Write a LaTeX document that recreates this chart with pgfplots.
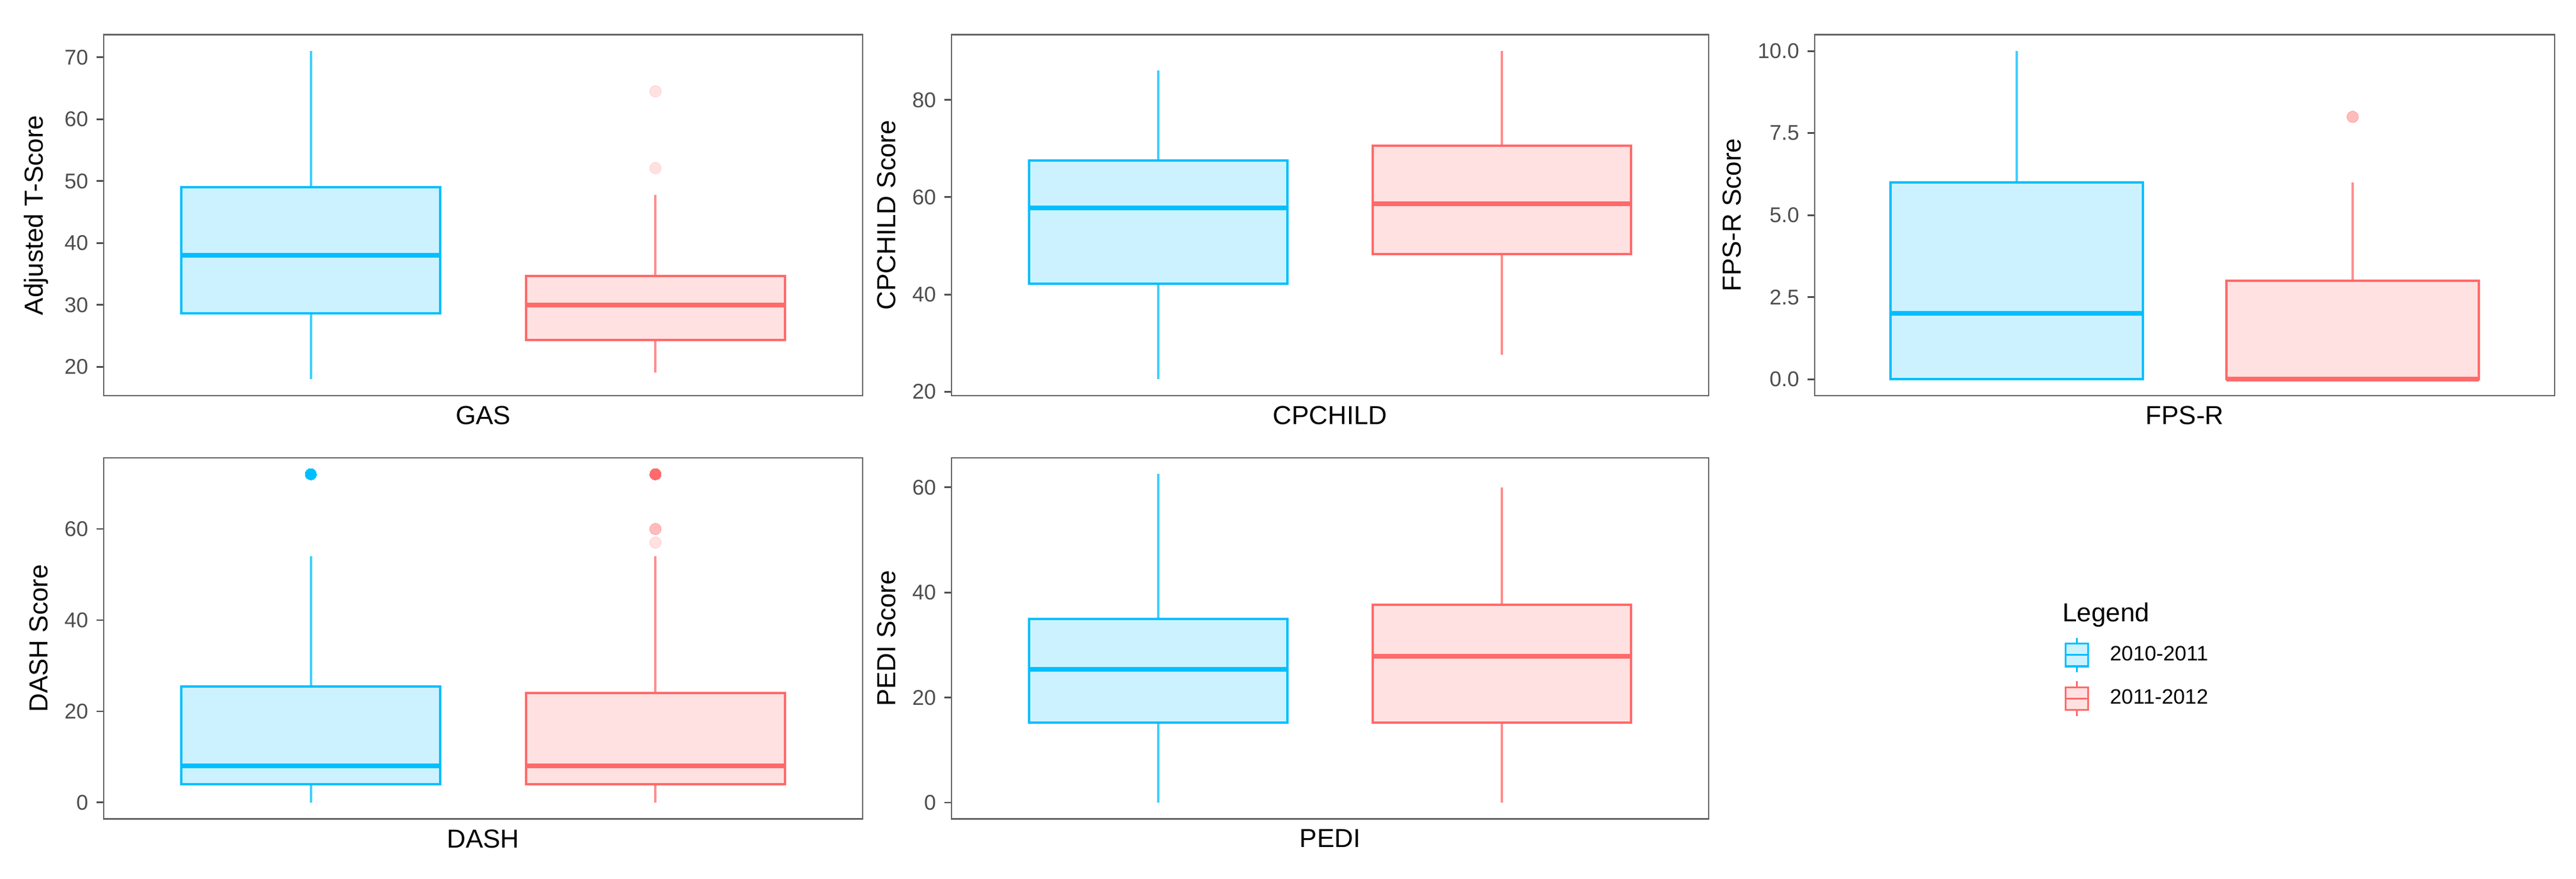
\documentclass[border=0pt]{standalone}
\usepackage{fontspec}
\setmainfont{Liberation Sans}
\usepackage{pgfplots}
\pgfplotsset{compat=1.18}
\usepgfplotslibrary{statistics}

\definecolor{cblue}{HTML}{00BFFF}
\definecolor{cbluefill}{HTML}{CCF2FF}
\definecolor{cred}{HTML}{FF6A6A}
\definecolor{credfill}{HTML}{FFE1E1}
\definecolor{frame}{HTML}{666666}
\definecolor{ticktext}{HTML}{4D4D4D}

\pgfplotsset{
  panel/.style={
    scale only axis,
    xmin=0, xmax=1, xtick=\empty,
    axis line style={draw=frame, line width=0.7pt},
    ytick pos=left, tick align=outside, major tick length=3pt,
    y tick style={draw=ticktext, line width=0.7pt},
    yticklabel style={font=\fontsize{9}{10}\selectfont, text=ticktext},
    /pgf/number format/assume math mode=true,
    label style={font=\fontsize{11}{13}\selectfont},
    xlabel style={yshift=2pt},
    boxplot/draw direction=y,
    boxplot/whisker extend=0,
  },
  bluebox/.style={draw=cblue, fill=cbluefill, line width=1pt, mark=none,
    boxplot/every median/.style={line width=2pt},
    boxplot/every whisker/.style={draw opacity=0.75}},
  redbox/.style={draw=cred, fill=credfill, line width=1pt, mark=none,
    boxplot/every median/.style={line width=2pt},
    boxplot/every whisker/.style={draw opacity=0.75}},
  outl/.style 2 args={only marks, mark=*, mark size=2.4pt, color=#1,
    mark options={draw=#1, fill=#1, line width=0pt, opacity=#2}},
}

\begin{document}
\begin{tikzpicture}
\useasboundingbox (0,0) rectangle (1087pt,371pt);

% GAS
\begin{axis}[panel, at={(43.75pt,204pt)}, anchor=south west, width=320.25pt, height=152.35pt,
  ymin=15.35, ymax=73.65, ytick={20,30,40,50,60,70},
  xlabel={GAS}, ylabel={Adjusted T-Score}]
\addplot[bluebox, boxplot prepared={lower whisker=18, lower quartile=28.6, median=38,
  upper quartile=49, upper whisker=71, draw position=0.273, box extend=0.341}] coordinates {};
\addplot[redbox, boxplot prepared={lower whisker=19.1, lower quartile=24.3, median=30,
  upper quartile=34.7, upper whisker=47.8, draw position=0.727, box extend=0.341}] coordinates {};
\addplot[outl={cred}{0.2}] coordinates {(0.727,52.1) (0.727,64.5)};
\end{axis}

% CPCHILD
\begin{axis}[panel, at={(401.5pt,204pt)}, anchor=south west, width=319.5pt, height=152.35pt,
  ymin=19.2, ymax=93.4, ytick={20,40,60,80},
  xlabel={CPCHILD}, ylabel={CPCHILD Score}]
\addplot[bluebox, boxplot prepared={lower whisker=22.6, lower quartile=42.2, median=57.8,
  upper quartile=67.5, upper whisker=86, draw position=0.273, box extend=0.341}] coordinates {};
\addplot[redbox, boxplot prepared={lower whisker=27.6, lower quartile=48.3, median=58.7,
  upper quartile=70.6, upper whisker=90, draw position=0.727, box extend=0.341}] coordinates {};
\end{axis}

% FPS-R
\begin{axis}[panel, at={(765.75pt,204pt)}, anchor=south west, width=312.25pt, height=152.35pt,
  ymin=-0.5, ymax=10.5, ytick={0,2.5,5,7.5,10},
  yticklabel={\pgfmathprintnumber[fixed,fixed zerofill,precision=1]{\tick}},
  xlabel={FPS-R}, ylabel={FPS-R Score}]
\addplot[bluebox, boxplot prepared={lower whisker=0, lower quartile=0, median=2,
  upper quartile=6, upper whisker=10, draw position=0.273, box extend=0.341}] coordinates {};
\addplot[redbox, boxplot prepared={lower whisker=0, lower quartile=0, median=0,
  upper quartile=3, upper whisker=6, draw position=0.727, box extend=0.341}] coordinates {};
\addplot[outl={cred}{0.45}] coordinates {(0.727,8)};
\end{axis}

% DASH
\begin{axis}[panel, at={(43.75pt,25.35pt)}, anchor=south west, width=320.25pt, height=152.4pt,
  ymin=-3.6, ymax=75.6, ytick={0,20,40,60},
  xlabel={DASH}, ylabel={DASH Score}]
\addplot[bluebox, boxplot prepared={lower whisker=0, lower quartile=4, median=8,
  upper quartile=25.5, upper whisker=54, draw position=0.273, box extend=0.341}] coordinates {};
\addplot[redbox, boxplot prepared={lower whisker=0, lower quartile=4, median=8,
  upper quartile=24, upper whisker=54, draw position=0.727, box extend=0.341}] coordinates {};
\addplot[outl={cblue}{1}] coordinates {(0.273,72)};
\addplot[outl={cred}{1}] coordinates {(0.727,72)};
\addplot[outl={cred}{0.45}] coordinates {(0.727,60)};
\addplot[outl={cred}{0.2}] coordinates {(0.727,57)};
\end{axis}

% PEDI
\begin{axis}[panel, at={(401.5pt,25.35pt)}, anchor=south west, width=319.5pt, height=152.4pt,
  ymin=-3.1, ymax=65.6, ytick={0,20,40,60},
  xlabel={PEDI}, ylabel={PEDI Score}]
\addplot[bluebox, boxplot prepared={lower whisker=0, lower quartile=15.2, median=25.4,
  upper quartile=35, upper whisker=62.5, draw position=0.273, box extend=0.341}] coordinates {};
\addplot[redbox, boxplot prepared={lower whisker=0, lower quartile=15.2, median=27.8,
  upper quartile=37.6, upper whisker=60, draw position=0.727, box extend=0.341}] coordinates {};
\end{axis}

% legend
\begin{axis}[scale only axis, hide axis, at={(765.75pt,25.35pt)}, anchor=south west,
  width=312.25pt, height=152.4pt, xmin=0, xmax=1, ymin=0, ymax=1,
  legend cell align=left,
  legend style={at={(axis cs:0.3276,0.627)}, anchor=north west, draw=none, fill=none,
    font=\fontsize{8.8}{10}\selectfont, row sep=3pt}]
\addlegendimage{empty legend}
\addlegendentry{\hspace{-20pt}\fontsize{11}{13}\selectfont Legend}
\addlegendimage{legend image code/.code={
  \node[draw=none, fill=none, inner sep=0pt, minimum size=0pt] at (16.5pt,0pt) {};
  \draw[cblue, fill=cbluefill, line width=0.8pt] (0pt,-4.8pt) rectangle (9.5pt,4.8pt);
  \draw[cblue, line width=0.8pt] (0pt,0pt) -- (9.5pt,0pt) (4.75pt,4.8pt) -- (4.75pt,7.3pt)
    (4.75pt,-4.8pt) -- (4.75pt,-7.3pt);}}
\addlegendentry{2010-2011}
\addlegendimage{legend image code/.code={
  \node[draw=none, fill=none, inner sep=0pt, minimum size=0pt] at (16.5pt,0pt) {};
  \draw[cred, fill=credfill, line width=0.8pt] (0pt,-4.8pt) rectangle (9.5pt,4.8pt);
  \draw[cred, line width=0.8pt] (0pt,0pt) -- (9.5pt,0pt) (4.75pt,4.8pt) -- (4.75pt,7.3pt)
    (4.75pt,-4.8pt) -- (4.75pt,-7.3pt);}}
\addlegendentry{2011-2012}
\end{axis}
\end{tikzpicture}
\end{document}
